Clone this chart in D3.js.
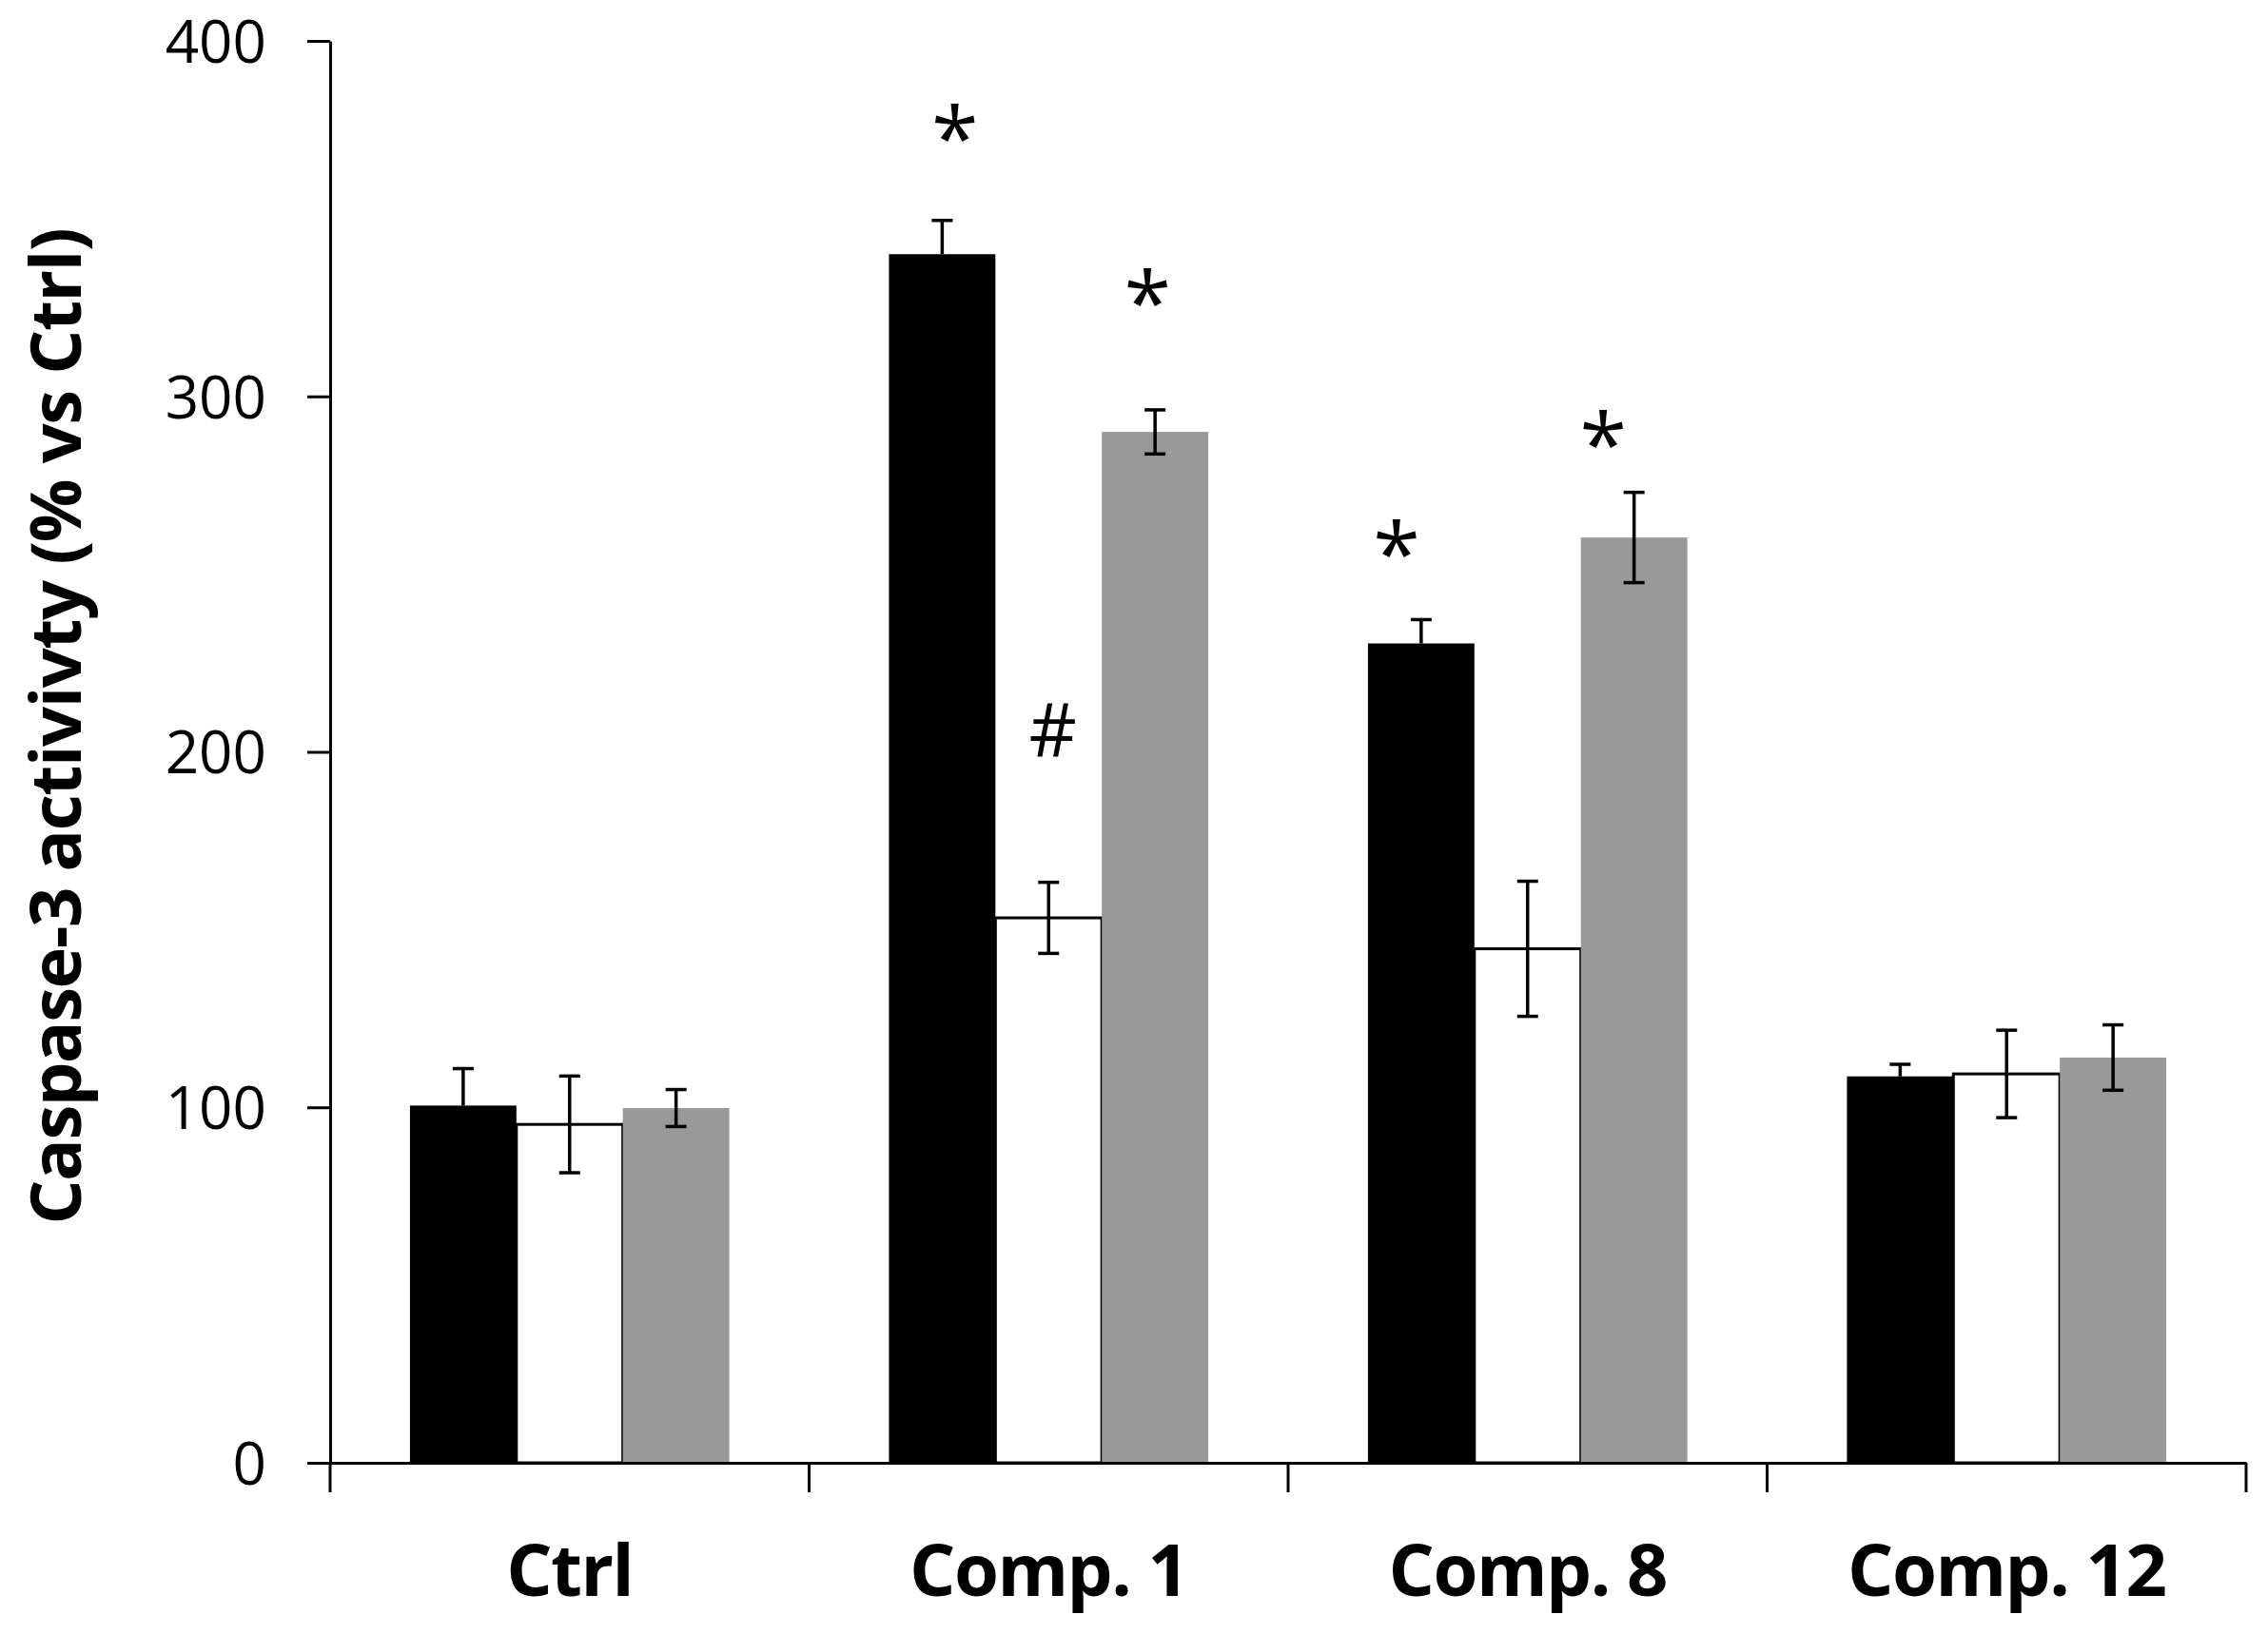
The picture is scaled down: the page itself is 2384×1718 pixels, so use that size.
<!DOCTYPE html>
<html>
<head>
<meta charset="utf-8">
<script src="https://cdn.jsdelivr.net/npm/d3@7"></script>
<style>
	body { margin: 0; background: #fff; }
	svg { display: block; }
</style>
</head>
<body>
<div id="chart"></div>
<script>

var width = 2384,
	height = 1718,
	left = 347,
	right = 2361,
	top_y = 43,
	bottom_y = 1538;

// data

var groups = ["Ctrl", "Comp. 1", "Comp. 8", "Comp. 12"];
var series = ["black", "white", "gray"];

var black_values = [100.5, 340, 230.5, 108.7];
var black_errors = [10.4, 9.5, 6.7, 3.4];

var white_values = [95.2, 153.3, 144.6, 109.4];
var white_errors = [13.6, 10, 19, 12.3];

var gray_values = [99.8, 290, 260.3, 114];
var gray_errors = [5.2, 6.2, 12.7, 9.2];

var y_ticks = [0, 100, 200, 300, 400];

// significance marks: group, series, label, value where the mark sits
var marks = [
	{group: "Comp. 1", series: "black", label: "*", at: 378},
	{group: "Comp. 1", series: "white", label: "#", at: 206},
	{group: "Comp. 1", series: "gray", label: "*", at: 331.5},
	{group: "Comp. 8", series: "black", label: "*", at: 261},
	{group: "Comp. 8", series: "gray", label: "*", at: 291.6}
];

// hand placed nudges of the marks, in bar widths
var mark_shift = [0.12, 0.04, -0.07, -0.23, -0.29];

var fills = {black: "#000", white: "#fff", gray: "#999"};

var table = {black: [black_values, black_errors], white: [white_values, white_errors], gray: [gray_values, gray_errors]};

var bars = [];
groups.forEach(function(g, i){
	series.forEach(function(s){
		bars.push({group: g, series: s, value: table[s][0][i], error: table[s][1][i]});
	});
});

// scales

var X0 = d3.scaleBand().domain(groups).range([left, right]).padding(0);
var X1 = d3.scaleBand().domain(series).range([0, X0.bandwidth()]).paddingInner(0).paddingOuter(0.75);
var Y = d3.scaleLinear().domain([0, 400]).range([bottom_y, top_y]);

var svg = d3.select("#chart").append("svg")
	.attr("width", width)
	.attr("height", height);

// bars

svg.append("g").selectAll("rect").data(bars).enter().append("rect")
	.attr("x", function(d){ return X0(d.group) + X1(d.series); })
	.attr("y", function(d){ return Y(d.value); })
	.attr("width", X1.bandwidth())
	.attr("height", function(d){ return Y(0) - Y(d.value); })
	.attr("fill", function(d){ return fills[d.series]; })
	.attr("stroke", function(d){ return d.series == "white" ? "#000" : "none"; })
	.attr("stroke-width", 3);

// error bars

var cap = 11;
var eb = svg.append("g").attr("stroke", "#000").attr("stroke-width", 3.5);

bars.forEach(function(d){
	var cx = X0(d.group) + X1(d.series) + X1.bandwidth() / 2;
	var hi = Y(d.value + d.error), lo = Y(d.value - d.error);
	// black bars only show the upper half
	if (d.series == "black") lo = Y(d.value);
	eb.append("line").attr("x1", cx).attr("x2", cx).attr("y1", hi).attr("y2", lo);
	eb.append("line").attr("x1", cx - cap).attr("x2", cx + cap).attr("y1", hi).attr("y2", hi);
	if (d.series != "black")
		eb.append("line").attr("x1", cx - cap).attr("x2", cx + cap).attr("y1", lo).attr("y2", lo);
});

// y axis

var yaxis = svg.append("g")
	.attr("transform", "translate(" + left + ",0)")
	.call(d3.axisLeft(Y).tickValues(y_ticks).tickSize(24).tickSizeOuter(0).tickPadding(43).tickFormat(d3.format("d")));

yaxis.select(".domain").attr("stroke-width", 3);
yaxis.selectAll(".tick line").attr("stroke-width", 3);
yaxis.selectAll(".tick text")
	.attr("font-family", "'Open Sans', sans-serif")
	.attr("font-size", 62)
	.attr("fill", "#000")
	.attr("dy", "0.36em");

// x axis, ticks sit on the group boundaries

var xaxis = svg.append("g")
	.attr("transform", "translate(0," + bottom_y + ")")
	.call(d3.axisBottom(X0).tickSize(0).tickSizeOuter(0).tickPadding(0));

xaxis.select(".domain").attr("stroke-width", 3);
xaxis.selectAll(".tick text")
	.attr("font-family", "'Open Sans', sans-serif")
	.attr("font-weight", "bold")
	.attr("font-size", 76)
	.attr("letter-spacing", -1.5)
	.attr("fill", "#000")
	.attr("y", 140)
	.attr("dy", 0);

var bounds = groups.map(function(g){ return X0(g); }).concat([right]);
xaxis.selectAll(".bound").data(bounds).enter().append("line")
	.attr("class", "bound")
	.attr("x1", function(d){ return d; })
	.attr("x2", function(d){ return d; })
	.attr("y1", 0)
	.attr("y2", 31)
	.attr("stroke", "#000")
	.attr("stroke-width", 3);

// y title

svg.append("text")
	.attr("transform", "translate(85," + 764 + ") rotate(-90)")
	.attr("text-anchor", "middle")
	.attr("font-family", "'Open Sans', sans-serif")
	.attr("font-weight", "bold")
	.attr("font-size", 74)
	.attr("letter-spacing", -1.5)
	.text("Caspase-3 activivty (% vs Ctrl)");

// significance marks

svg.append("g").selectAll("text").data(marks).enter().append("text")
	.attr("x", function(d, i){ return X0(d.group) + X1(d.series) + X1.bandwidth() * (0.5 + mark_shift[i]); })
	.attr("y", function(d){ return Y(d.at); })
	.attr("dy", function(d){ return d.label == "*" ? "0.57em" : "0.36em"; })
	.attr("text-anchor", "middle")
	.attr("font-family", "'Open Sans', sans-serif")
	.attr("font-size", function(d){ return d.label == "*" ? 90 : 78; })
	.attr("fill", "#000")
	.text(function(d){ return d.label; });

</script>
</body>
</html>
